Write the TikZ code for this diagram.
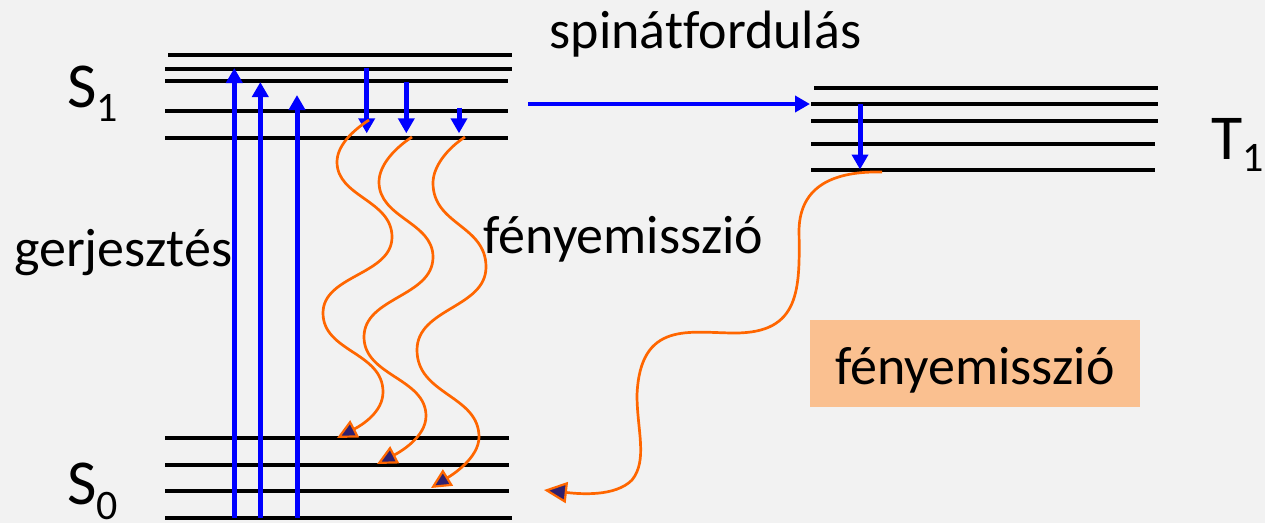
\documentclass[tikz,border=0pt]{standalone}
\usepackage{fontspec}
\setmainfont{Carlito}[Ligatures=NoCommon]
\usetikzlibrary{arrows.meta}
\definecolor{bg}{HTML}{F2F2F2}
\definecolor{emit}{HTML}{FF6600}
\definecolor{tipfill}{HTML}{30206E}
\definecolor{boxfill}{HTML}{FAC090}
\begin{document}
\begin{tikzpicture}[x=1pt,y=-1pt,
  level/.style={line width=4pt,black},
  transition/.style={blue,line width=5pt,-{Triangle[length=15pt,width=16pt]}},
  crossing/.style={blue,line width=4pt,-{Triangle[length=15pt,width=16pt]}},
  photon/.style={emit,line width=2.7pt,-{Triangle[length=20pt,width=19pt,fill=tipfill,line width=2.2pt]}},
  bigphoton/.style={emit,line width=2.7pt,-{Triangle[length=23pt,width=21pt,fill=tipfill,line width=2.2pt]}},
  txt/.style={inner sep=0pt,anchor=base west,font=\fontsize{54}{60}\selectfont},
  statelabel/.style={inner sep=0pt,anchor=base west},
]
\fill[bg] (0,0) rectangle (1265,523);
\useasboundingbox (0,0) rectangle (1265,523);

% vibrational levels of S1
\draw[level] (168,54.7) -- (512,54.7);
\draw[level] (165,69) -- (512,69);
\draw[level] (165,81.3) -- (508,81.3);
\draw[level] (165,111) -- (508,111);
\draw[level] (165,137.7) -- (508,137.7);
% vibrational levels of S0
\draw[level] (165,438.3) -- (509,438.3);
\draw[level] (165,465) -- (509,465);
\draw[level] (165,491) -- (509,491);
\draw[level] (165,517.7) -- (512,517.7);
% vibrational levels of T1
\draw[level] (814,87.7) -- (1158,87.7);
\draw[level] (811,104.3) -- (1158,104.3);
\draw[level] (811,121) -- (1158,121);
\draw[level] (811,144) -- (1155,144);
\draw[level] (811,170.3) -- (1155,170.3);

% state labels
\node[statelabel] (S1) at (67,107) {\fontsize{64}{64}\selectfont S\raisebox{-14pt}{\fontsize{42}{42}\selectfont 1}};
\node[statelabel] (S0) at (67,504) {\fontsize{64}{64}\selectfont S\raisebox{-15.5pt}{\fontsize{42}{42}\selectfont 0}};
\node[statelabel] (T1) at (1211,159) {\fontsize{64}{64}\selectfont T\raisebox{-12pt}{\fontsize{42}{42}\selectfont 1}};

% texts
\node[txt] (spin) at (549.5,48.3) {spinátfordulás};
\node[txt] (fluo) at (483.5,253.3) {fényemisszió};
\node[txt] (exc) at (14,266.7) {gerjesztés};
\node[fill=boxfill,inner sep=0pt,minimum width=330pt,minimum height=87pt,
      text height=41.4pt,text depth=0pt,font=\fontsize{54}{60}\selectfont]
      (phos) at (975,363.3) {fényemisszió};

% end points of the transitions
\coordinate (u1a) at (234.3,518);  \coordinate (u1b) at (234.3,68);
\coordinate (u2a) at (260.3,518);  \coordinate (u2b) at (260.3,82);
\coordinate (u3a) at (297,518);    \coordinate (u3b) at (297,95);
\coordinate (d1a) at (366.7,67.7); \coordinate (d1b) at (366.7,133.3);
\coordinate (d2a) at (406.3,81.7); \coordinate (d2b) at (406.3,133.3);
\coordinate (d3a) at (459,107.7);  \coordinate (d3b) at (459,133.3);
\coordinate (isca) at (528,104);   \coordinate (iscb) at (810,104);
\coordinate (t1a) at (860,104.3);  \coordinate (t1b) at (860,169.5);

% excitation, relaxation and intersystem crossing
\draw[transition] (u1a) -- (u1b);
\draw[transition] (u2a) -- (u2b);
\draw[transition] (u3a) -- (u3b);
\draw[transition] (d1a) -- (d1b);
\draw[transition] (d2a) -- (d2b);
\draw[transition] (d3a) -- (d3b);
\draw[crossing] (isca) -- (iscb);
\draw[transition] (t1a) -- (t1b);

% emission paths
\coordinate (e1a) at (369,120);  \coordinate (e1b) at (337,438);
\coordinate (e2a) at (412,137);  \coordinate (e2b) at (377,464);
\coordinate (e3a) at (465,137);  \coordinate (e3b) at (431,488);
\coordinate (e4a) at (882,172);  \coordinate (e4b) at (544,490);

\draw[photon] (e1a) .. controls (352,131) and (337,146) .. (337,162)
  .. controls (337,197) and (392,200) .. (392,237)
  .. controls (392,275) and (323,275) .. (323,313)
  .. controls (323,352) and (383,352) .. (383,392)
  .. controls (383,412) and (362,425) .. (e1b);
\draw[photon] (e2a) .. controls (395,148) and (379,165) .. (379,182)
  .. controls (379,218) and (433,222) .. (433,257)
  .. controls (433,297) and (364,297) .. (364,337)
  .. controls (364,376) and (426,378) .. (426,416)
  .. controls (426,437) and (400,452) .. (e2b);
\draw[photon] (e3a) .. controls (448,148) and (433,166) .. (433,183)
  .. controls (433,225) and (486,225) .. (486,267)
  .. controls (486,308) and (417,308) .. (417,350)
  .. controls (417,395) and (479,395) .. (479,437)
  .. controls (479,458) and (452,475) .. (e3b);
\draw[bigphoton] (e4a) .. controls (835,171) and (800,185) .. (799,230)
  .. controls (800,290) and (800,333) .. (735,333)
  .. controls (690,333) and (640,320) .. (637,395)
  .. controls (637,430) and (648,460) .. (632,480)
  .. controls (615,497) and (580,494) .. (e4b);
\end{tikzpicture}
\end{document}
